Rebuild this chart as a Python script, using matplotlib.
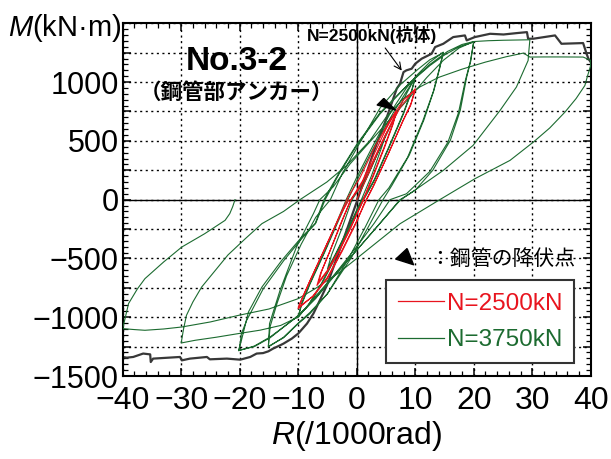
import matplotlib
matplotlib.use("Agg")
import matplotlib.pyplot as plt
from matplotlib.ticker import MultipleLocator, FuncFormatter

plt.rcParams['font.family'] = ['Liberation Sans', 'Noto Sans CJK JP', 'DejaVu Sans']
plt.rcParams['mathtext.fontset'] = 'custom'
plt.rcParams['mathtext.it'] = 'Liberation Sans:italic'
plt.rcParams['mathtext.rm'] = 'Liberation Sans'

# N=3750kN hysteresis (R in 1/1000 rad, M in kN*m)
R_3750 = [0, 2.5, 5, 4.3, 2.5, 0.8, -1.5, -3.5, -5, -4.3, -2.5, -0.8,
          1.5, 4, 6.5, 8.5, 10, 9.4, 8, 5.5, 3, 1, -1, -3.5, -6, -8.2, -10,
          -9.4, -8, -5.5, -3.3, -1.5,
          0.5, 3.5, 6.5, 8.5, 10, 9.4, 8, 5.5, 3, 1.2, -1, -3.5, -6, -8.2, -10,
          -9.4, -8, -5.5, -3.4, -1.8,
          0, 3, 6, 8.5, 10.5, 12.5, 14.8, 14.2, 13.2, 11.5, 9, 6, 4.5, 2, -1, -5, -8, -10, -12.5, -15.1,
          -14.8, -13.6, -12, -9.5, -7, -4.5,
          -2.5, 0.5, 4, 7.5, 10.5, 12.5, 14.8, 14.1, 13.1, 11.3, 8.7, 5.5, 3.8, 1.5, -1.5, -5, -8, -10,
          -12.5, -15.1, -14.9, -13.1, -10.3, -7.4, -6.3,
          -4, -1.1, 4, 9.1, 12, 14.8, 17.5, 20, 19.5, 18.8, 17.7, 16, 13, 10, 7.4,
          4, 0, -4, -7, -10, -14.8, -17.5, -20.2,
          -19.7, -18.5, -16.2, -12.8, -9.4, -7.1, -5.6,
          -3, 0, 4, 9, 12.5, 15, 17.5, 20, 19.4, 18.6, 17.4, 15.6, 12.5, 8.5, 5.7,
          3, 0, -4, -7, -10, -14.8, -17.5, -20.1,
          -19.7, -18.8, -16, -12.5, -9.2, -7, -5.4,
          -3, 0, 4, 9, 12.5, 15.5, 18, 20, 22.5, 25.1, 27.5, 29.6,
          29.4, 29.3, 28.3, 27.3, 24.5, 19.9, 14.8, 10.5, 7.4,
          4, 0, -4, -7, -10, -13, -16.5, -20.2, -24, -27.6, -30,
          -29.6, -29.1, -28, -26.5, -22, -19, -16.2, -12.5, -9.7, -5.1, -1.7, 2.3, 5, 8, 10.8,
          14, 18, 22, 25.5, 28.5, 29.6, 32, 35, 38.7, 40,
          40, 39.5, 39, 37.5, 35.6, 33, 30.2, 26.2, 20.2, 14.2, 7.4, 2, -3, -7.1, -10,
          -15, -20.2, -25, -29.9, -33, -36.2, -38, -40,
          -39.5, -39, -37.5, -36.2, -33, -29.9, -26, -22.5, -21.7, -21.2, -20.8]
M_3750 = [0, 270, 560, 450, 200, 0, -250, -450, -590, -470, -240, 0,
          170, 440, 700, 900, 1043, 930, 740, 450, 170, 0, -200, -460, -710, -890, -998,
          -890, -720, -450, -200, 0,
          210, 500, 760, 920, 1035, 920, 730, 440, 160, 0, -220, -480, -720, -895, -995,
          -880, -710, -440, -190, 0,
          190, 480, 760, 950, 1070, 1170, 1255, 1120, 930, 680, 380, 120, 0, -230, -500, -800, -960, -1050, -1170, -1253,
          -1080, -880, -650, -380, -150, 0,
          220, 480, 780, 980, 1110, 1190, 1250, 1110, 920, 670, 360, 100, 0, -230, -510, -800, -970, -1055,
          -1175, -1248, -1054, -771, -403, -119, 0,
          110, 306, 589, 872, 1040, 1185, 1290, 1345, 1180, 1043, 759, 504, 250, 80, 0,
          -200, -430, -660, -840, -990, -1168, -1245, -1285,
          -1196, -955, -743, -516, -318, -204, 0,
          230, 470, 740, 990, 1140, 1230, 1300, 1340, 1170, 1020, 740, 490, 240, 50, 0,
          -200, -400, -650, -835, -985, -1175, -1250, -1281,
          -1139, -1026, -760, -520, -320, -200, 0,
          220, 460, 730, 990, 1150, 1260, 1320, 1345, 1352, 1356, 1358, 1360,
          1250, 1184, 1070, 958, 759, 462, 249, 100, -6,
          -200, -430, -650, -820, -998, -1070, -1110, -1139, -1170, -1196, -1219,
          -1100, -984, -870, -743, -470, -330, -204, -100, 0, 150, 292, 505, 700, 860, 959,
          1040, 1110, 1170, 1215, 1247, 1213, 1214, 1214, 1213, 1185,
          1142, 1060, 971, 860, 745, 610, 490, 334, 178, 0, -205, -420, -620, -757, -842,
          -930, -984, -1040, -1083, -1100, -1111, -1105, -1097,
          -990, -884, -760, -672, -530, -403, -290, -176, -119, -60, 0]

# N=2500kN hysteresis
R_2500 = [0, 2, 4, 6.8, 6.2, 4.8, 3, 1.2, -1, -3, -5, -6.5, -6, -4.6, -2.8, -1,
          1, 3, 5, 6.8, 6.2, 4.8, 2.9, 1.1, -1, -3, -5, -6.8, -6.2, -4.6, -2.8, -1,
          0.5, 2.5, 5, 7.5, 10, 9.3, 8, 5.5, 3, 1.5, 0, -2.5, -5, -7.5, -10,
          -9.2, -8, -5.5, -3, -1.5,
          0.5, 3, 5.5, 8, 10, 9.2, 7.8, 5.3, 2.8, 1.3, 0, -2.5, -5, -7.5, -10,
          -9.1, -7.8, -5.3, -2.8, -1.3]
M_2500 = [0, 220, 450, 745, 640, 450, 220, 0, -230, -430, -600, -700, -610, -440, -220, 0,
          160, 390, 600, 760, 650, 460, 220, 0, -240, -440, -610, -730, -630, -440, -210, 0,
          100, 300, 560, 790, 944, 820, 680, 400, 130, -20, -180, -430, -660, -820, -927,
          -830, -690, -420, -150, 20,
          180, 440, 660, 850, 930, 800, 660, 380, 110, -30, -190, -440, -670, -825, -915,
          -810, -670, -400, -130, 0]

# N=2500kN pile body (envelope)
R_pile = [-40, -39.3, -38.2, -36.5, -35.3, -35.2, -34.8, -30.2, -29.9, -28.5, -25.6, -25.1,
          -22.2, -19.9, -18.2, -17.1, -16, -15.1, -14.3, -13.1, -12.5, -11.1, -10.0, -8.5,
          -7.4, -6.3, -5.1, -3, 0, 3, 5, 6.84, 7.4, 8.0, 8.5, 9.4, 10.0, 11.1, 12.8, 13.4,
          14.8, 16.5, 18.5, 18.8, 20.2, 22.8, 25.1, 27.4, 29.1, 29.3, 30.2, 33.9, 35.0,
          38.7, 39.3, 39.6, 40]
M_pile = [-1338, -1344, -1338, -1309, -1316, -1381, -1352, -1338, -1367, -1352, -1338, -1358,
          -1352, -1361, -1338, -1309, -1305, -1290, -1267, -1239, -1224, -1182, -1139, -1054,
          -969, -856, -729, -440, -20, 420, 680, 944, 986, 1085, 1100, 1114, 1156, 1199, 1241, 1298,
          1326, 1383, 1397, 1355, 1383, 1411, 1405, 1417, 1425, 1369, 1369, 1397, 1326,
          1332, 1241, 1199, 1170]

labels = ['N=2500kN', 'N=3750kN']
red = '#e8141e'
green = '#1c6b30'

fig = plt.figure(figsize=(6.11, 4.59), dpi=100)
ax = fig.add_axes([0.2008, 0.1808, 0.766, 0.7684])

ax.plot(R_pile, M_pile, color='#383838', lw=1.6, zorder=2)
ax.plot(R_3750, M_3750, color=green, lw=0.8, zorder=3)
ax.plot(R_2500, M_2500, color=red, lw=0.8, zorder=4)

ax.set_xlim(-40, 40)
ax.set_ylim(-1500, 1500)
ax.xaxis.set_major_locator(MultipleLocator(10))
ax.xaxis.set_minor_locator(MultipleLocator(2))
ax.yaxis.set_major_locator(MultipleLocator(250))
ax.yaxis.set_minor_locator(MultipleLocator(50))


def ylab(v, pos):
    if v % 500 == 0 and v < 1500:
        return f'{int(v)}'.replace('-', '\u2212')
    return ''


ax.yaxis.set_major_formatter(FuncFormatter(ylab))
ax.tick_params(which='both', direction='in', top=True, right=True)
ax.tick_params(which='major', length=6, width=1.1)
ax.tick_params(which='minor', length=3.5, width=0.9)
ax.tick_params(axis='y', labelsize=22, pad=3)
ax.tick_params(axis='x', labelsize=23, pad=7)
for s in ax.spines.values():
    s.set_linewidth(1.5)

ax.grid(True, which='major', color='black', lw=1.0, ls=(0, (1.5, 2.5)))
ax.axhline(0, color='black', lw=1.0, zorder=1.5)
ax.axvline(0, color='black', lw=1.0, zorder=1.5)

ax.set_xlabel(r'$\mathit{R}$(/1000rad)', fontsize=23, labelpad=2)
fig.text(0.013, 0.94, r'$\mathit{M}$(kN·m)', fontsize=21, ha='left', va='center')

ax.text(-20.5, 1178, 'No.3-2', fontsize=24, fontweight='bold', ha='center', va='center')
ax.text(-20.5, 912, '（鋼管部アンカー）', fontsize=15.5, fontweight='bold', ha='center', va='center',
        family=['Noto Sans CJK JP'])

ax.annotate('N=2500kN(杭体)', xy=(7.7, 1098), xytext=(2.6, 1400), fontsize=12.5, fontweight='bold',
            ha='center', va='center', family=['Liberation Sans', 'Noto Sans CJK JP'],
            arrowprops=dict(arrowstyle='->', color='black', lw=0.8, relpos=(0.58, 0), shrinkA=1, shrinkB=0))

# yield markers of the steel pipe
arrow_up = [(-1.7, 6.1), (-8.3, -0.5), (10, -5.5), (-1.7, 6.1)]
arrow_low = [(1.4, 7.9), (-8.6, -1.4), (7.1, -6.4), (1.4, 7.9)]
ax.plot([4.83], [811], marker=arrow_up, ms=14.4, color='black', zorder=6)
ax.plot([8.2], [-490], marker=arrow_low, ms=14, color='black', zorder=6)
ax.text(12.4, -502, '：鋼管の降伏点', fontsize=15, ha='left', va='center', family=['Noto Sans CJK JP'])

handles = [plt.Line2D([], [], color=red, lw=0.9), plt.Line2D([], [], color=green, lw=0.9)]
leg = ax.legend(handles, labels, loc='lower right', bbox_to_anchor=(0.965, 0.036),
                prop={'size': 17.5}, labelcolor=[red, green], frameon=True, fancybox=False,
                framealpha=1, edgecolor='#333333', handlelength=1.9, handletextpad=0.1,
                borderpad=0.5, labelspacing=0.6, borderaxespad=0)
leg.get_frame().set_linewidth(1.5)

fig.savefig('out.png', dpi=100)
